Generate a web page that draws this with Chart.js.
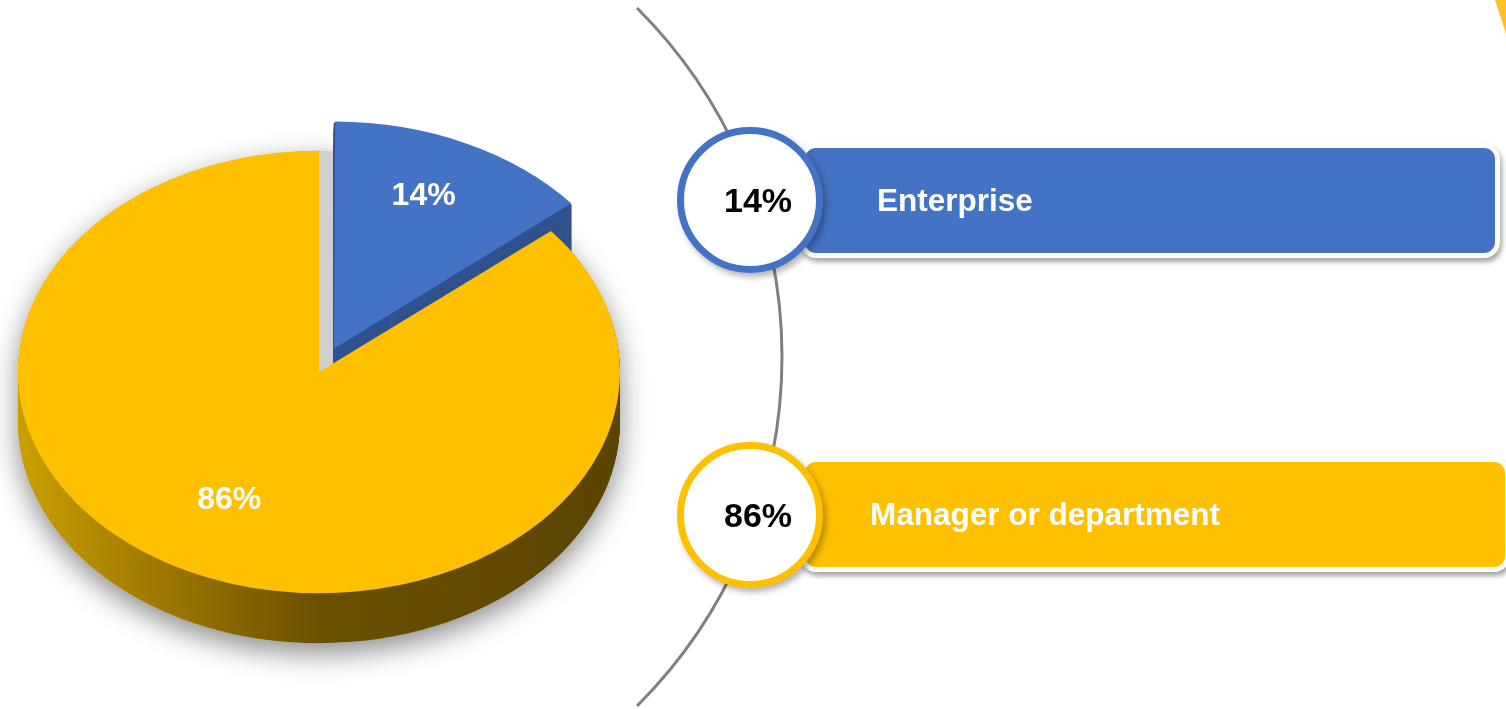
<!DOCTYPE html>
<html>
<head>
<meta charset="utf-8">
<script src="https://cdn.jsdelivr.net/npm/chart.js@4.4.1/dist/chart.umd.min.js"></script>
<style>
  html, body { margin: 0; padding: 0; background: #fff; }
  #wrap { position: relative; width: 1506px; height: 709px; overflow: hidden;
          font-family: "Liberation Sans", Arial, sans-serif; }
  #pie { position: absolute; left: 0; top: 0; }
  .bar { position: absolute; left: 800px; height: 105px; border: 5px solid #fff;
         border-radius: 16px; box-shadow: 2px 4px 5px rgba(0,0,0,0.35); }
  .bar span { position: absolute; top: 0; line-height: 105px; color: #fff;
              font-weight: bold; font-size: 31.5px; white-space: nowrap; }
  .badge { position: absolute; left: 677px; width: 146px; height: 146px; box-sizing: border-box;
           border: 7px solid; border-radius: 50%; background: #fff;
           box-shadow: 3px 4px 6px rgba(0,0,0,0.3); display: flex; align-items: center;
           justify-content: center; padding-left: 16px; font-weight: bold; font-size: 34px; color: #000; }
  #corner { position: absolute; left: 1495px; top: 0; width: 11px; height: 34px; background: #fdbf2d;
            clip-path: polygon(0 0, 100% 0, 100% 100%); }
</style>
</head>
<body>
<div id="wrap">
  <canvas id="pie" width="1506" height="709"></canvas>
  <div id="corner"></div>
</div>
<script>
// data
var categories = ['Enterprise', 'Manager or department'];
var shares = [14, 86];
var explode = [140, 0];

var topColors = ['#4472c4', '#ffc000'];
var DEPTH = 50, TILT = 0.735;

var total = shares.reduce(function (a, b) { return a + b; }, 0);
function pct(v) { return Math.round(v / total * 100) + '%'; }

// same path the arc element uses, optionally pushed down by dy
function sectorPath(ctx, arc, explodePx, dy) {
  var off = explodePx / 4;
  var half = (arc.startAngle + arc.endAngle) / 2;
  var span = arc.endAngle - arc.startAngle;
  var fix = 1 - Math.sin(Math.min(Math.PI, span));
  var r = arc.outerRadius + off * fix;
  var x = arc.x + Math.cos(half) * off;
  var y = arc.y + Math.sin(half) * off + dy;
  ctx.beginPath();
  ctx.moveTo(x, y);
  ctx.arc(x, y, r, arc.startAngle, arc.endAngle);
  ctx.closePath();
}

var pie3d = {
  id: 'pie3d',
  beforeDraw: function (chart) {
    var ctx = chart.ctx;
    var a = Math.asin(349 / 492.5);
    ctx.save();
    ctx.strokeStyle = '#808080';
    ctx.lineWidth = 3;
    ctx.beginPath();
    ctx.arc(289.5, 357, 492.5, -a, a);
    ctx.stroke();
    ctx.restore();
  },
  beforeDatasetsDraw: function (chart) {
    var ctx = chart.ctx;
    var arcs = chart.getDatasetMeta(0).data;
    var cx = arcs[0].x, cy = arcs[0].y, R = arcs[0].outerRadius;

    // soft drop shadow under the whole disc
    ctx.save();
    ctx.shadowColor = 'rgba(0,0,0,0.45)';
    ctx.shadowBlur = 28;
    ctx.shadowOffsetY = 10;
    ctx.fillStyle = '#d0d0d0';
    ctx.beginPath();
    ctx.ellipse(cx, cy, R, R * TILT, 0, 0, Math.PI * 2);
    ctx.moveTo(cx + R, cy + DEPTH);
    ctx.ellipse(cx, cy + DEPTH, R, R * TILT, 0, 0, Math.PI * 2);
    ctx.rect(cx - R, cy, 2 * R, DEPTH);
    ctx.fill();
    ctx.restore();

    // tilt the disc; kept until afterDatasetsDraw so the arcs use it too
    ctx.save();
    ctx.translate(cx, cy);
    ctx.scale(1, TILT);
    ctx.translate(-cx, -cy);

    // hole left by the pulled out slice
    ctx.fillStyle = '#d0d0d0';
    sectorPath(ctx, arcs[0], 0, 0);
    ctx.fill();

    // side walls
    arcs.forEach(function (arc, i) {
      var fill;
      if (i === 0) {
        fill = '#2f528f';
      } else {
        fill = ctx.createLinearGradient(cx - R, 0, cx + R, 0);
        fill.addColorStop(0, '#caa000');
        fill.addColorStop(0.22, '#a07a00');
        fill.addColorStop(0.5, '#6b5000');
        fill.addColorStop(1, '#5a4400');
      }
      ctx.fillStyle = fill;
      for (var d = DEPTH; d > 0; d--) {
        sectorPath(ctx, arc, explode[i], d / TILT);
        ctx.fill();
      }
    });
  },
  afterDatasetsDraw: function (chart) {
    var ctx = chart.ctx;
    ctx.restore();
    var arcs = chart.getDatasetMeta(0).data;
    ctx.save();
    ctx.fillStyle = '#fff';
    ctx.font = 'bold 32px "Liberation Sans", Arial, sans-serif';
    ctx.textAlign = 'center';
    ctx.textBaseline = 'middle';
    arcs.forEach(function (arc, i) {
      var half = (arc.startAngle + arc.endAngle) / 2;
      var r = arc.outerRadius * 0.7 + explode[i] / 4;
      var x = arc.x + Math.cos(half) * r;
      var y = arc.y + Math.sin(half) * r * TILT - 12;
      ctx.fillText(pct(shares[i]), x, y);
    });
    ctx.restore();
  }
};

new Chart(document.getElementById('pie'), {
  type: 'pie',
  data: {
    labels: categories,
    datasets: [{
      data: shares,
      backgroundColor: topColors,
      borderWidth: 0,
      offset: explode,
      clip: false
    }]
  },
  options: {
    responsive: false,
    animation: false,
    devicePixelRatio: 1,
    radius: 301,
    layout: { padding: { left: 0, right: 868, top: 35, bottom: 0 } },
    plugins: { legend: { display: false }, tooltip: { enabled: false } }
  },
  plugins: [pie3d]
});

// right side key: bar + ring per category
var wrap = document.getElementById('wrap');
var barTops = [143, 457];
var barWidths = [690, 700];
var textLeft = [72, 65];
var badgeTops = [127, 442];
categories.forEach(function (name, i) {
  var bar = document.createElement('div');
  bar.className = 'bar';
  bar.style.top = barTops[i] + 'px';
  bar.style.width = barWidths[i] + 'px';
  bar.style.background = topColors[i];
  var t = document.createElement('span');
  t.style.left = textLeft[i] + 'px';
  t.textContent = name;
  bar.appendChild(t);
  wrap.appendChild(bar);

  var badge = document.createElement('div');
  badge.className = 'badge';
  badge.style.top = badgeTops[i] + 'px';
  badge.style.borderColor = topColors[i];
  badge.textContent = pct(shares[i]);
  wrap.appendChild(badge);
});
</script>
</body>
</html>
